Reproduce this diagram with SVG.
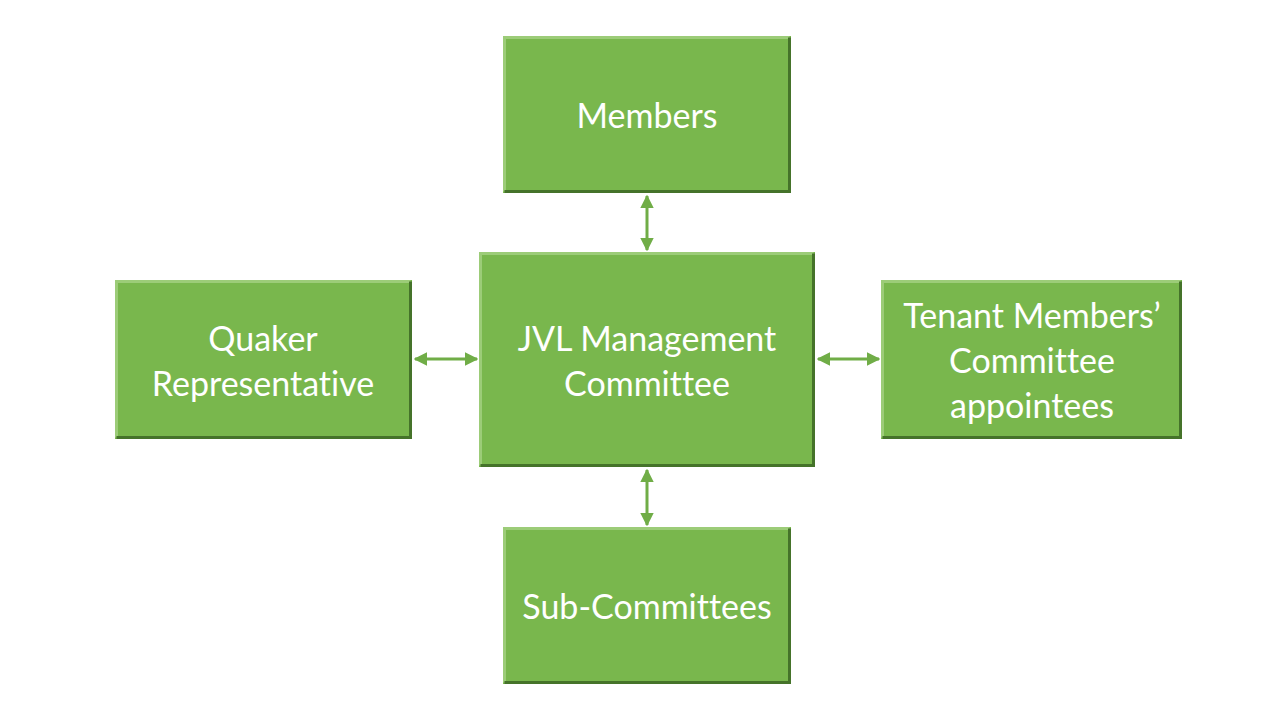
<svg xmlns="http://www.w3.org/2000/svg" width="1280" height="720" viewBox="0 0 1280 720">
<defs>
<style>
.box{fill:#79b74d;}
.hi{fill:none;stroke:#9ccc78;stroke-width:3;}
.sh{fill:none;stroke:#45732a;stroke-width:3;}
.lbl{font-family:Lato,"Open Sans",sans-serif;font-size:34px;fill:#ffffff;text-anchor:middle;font-variant-ligatures:none;}
.con{stroke:#70ad47;stroke-width:3;fill:none;marker-start:url(#ah);marker-end:url(#ah);}
</style>
<marker id="ah" viewBox="0 0 10 10" refX="9" refY="5" markerWidth="4.5" markerHeight="4.5" orient="auto-start-reverse" markerUnits="strokeWidth">
<path d="M0,0 L10,5 L0,10 z" fill="#70ad47"/>
</marker>
</defs>
<rect width="1280" height="720" fill="#ffffff"/>
<g id="connectors">
<line class="con" x1="647" y1="196" x2="647" y2="250"/>
<line class="con" x1="647" y1="470" x2="647" y2="525"/>
<line class="con" x1="415" y1="359" x2="477" y2="359"/>
<line class="con" x1="818" y1="359" x2="879" y2="359"/>
</g>
<g id="members">
<rect class="box" x="503" y="36" width="288" height="157"/>
<path class="hi" d="M504.5,191.5 V37.5 H789.5"/>
<path class="sh" d="M789.5,37.5 V191.5 H504.5"/>
<text class="lbl" x="647" y="128">Members</text>
</g>
<g id="jvl">
<rect class="box" x="479" y="252" width="336" height="215"/>
<path class="hi" d="M480.5,465.5 V253.5 H813.5"/>
<path class="sh" d="M813.5,253.5 V465.5 H480.5"/>
<text class="lbl" x="647" y="351">JVL Management</text>
<text class="lbl" x="647" y="396">Committee</text>
</g>
<g id="quaker">
<rect class="box" x="115" y="280" width="297" height="159"/>
<path class="hi" d="M116.5,437.5 V281.5 H410.5"/>
<path class="sh" d="M410.5,281.5 V437.5 H116.5"/>
<text class="lbl" x="263" y="351">Quaker</text>
<text class="lbl" x="263" y="396">Representative</text>
</g>
<g id="tenant">
<rect class="box" x="881" y="280" width="301" height="159"/>
<path class="hi" d="M882.5,437.5 V281.5 H1180.5"/>
<path class="sh" d="M1180.5,281.5 V437.5 H882.5"/>
<text class="lbl" x="1032" y="328">Tenant Members’</text>
<text class="lbl" x="1032" y="373">Committee</text>
<text class="lbl" x="1032" y="418">appointees</text>
</g>
<g id="sub">
<rect class="box" x="503" y="527" width="288" height="157"/>
<path class="hi" d="M504.5,682.5 V528.5 H789.5"/>
<path class="sh" d="M789.5,528.5 V682.5 H504.5"/>
<text class="lbl" x="647" y="619">Sub-Committees</text>
</g>
</svg>
